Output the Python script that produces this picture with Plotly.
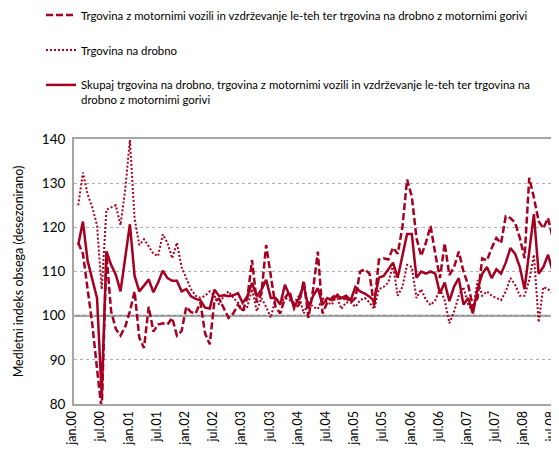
import plotly.graph_objects as go

MONTHS = ["jan", "feb", "mar", "apr", "maj", "jun", "jul", "avg", "sep", "okt", "nov", "dec"]
categories = [f"{m}.{y:02d}" for y in range(0, 9) for m in MONTHS][:104]
tick_labels = categories[::6]

# Trgovina z motornimi vozili in vzdrževanje le-teh ter trgovina na drobno z motornimi gorivi
motor_vehicles = [
    116.5, 114, 106, 98, 88, 78.5, 114, 101, 97, 95.5,
    97.5, 101, 105.5, 95, 92.7, 102, 96.4, 98, 98.3, 98,
    99.5, 95.5, 96.5, 102, 100.8, 100.5, 103, 96, 93.5, 103.5,
    103.8, 101.5, 99.5, 100.5, 102.5, 101, 104, 112.6, 103, 105,
    116, 109, 102, 100.5, 104, 105.5, 101.5, 102.5, 108, 99.5,
    106, 114.5, 100.5, 103, 104, 105, 103.5, 104, 103, 104,
    110, 110.5, 109.5, 102, 112.7, 113, 112.7, 115.4, 114, 120,
    130.8, 127, 117.6, 113.5, 116.5, 120.3, 114, 108.5, 116.4, 109.2,
    111, 114.5, 110, 107, 102, 104, 113, 112.5, 115.3, 117.6,
    116.4, 122.5, 122.1, 121, 117.6, 113, 131.2, 126.7, 121.4, 119.8,
    122.1, 117.6, 115.7, 114.9,
]

# Trgovina na drobno
retail = [
    125, 132.4, 127.5, 124.5, 120.5, 106, 124, 124.5, 125, 120.5,
    128.5, 139.8, 122, 116, 117.3, 115.7, 114, 113.5, 118.4, 116.5,
    113, 116.5, 111, 108.5, 106, 104.5, 104, 104.5, 105.5, 104.5,
    102.5, 104.5, 105.5, 104, 103, 101, 102, 106, 101, 104,
    102, 99.5, 104, 103, 104, 103.5, 103, 104.5, 100.5, 103,
    102, 101.5, 104, 103, 102.5, 104.5, 101.5, 103, 103, 102,
    103.5, 104, 103, 101.5, 106, 106.5, 107.5, 111.5, 104.5, 106.5,
    111.5, 111, 104, 106, 103.6, 102.4, 103.5, 106, 103.5, 98.3,
    100.9, 104.5, 106.5, 102.5, 101, 108, 104.5, 105.5, 104.5, 104,
    103.5, 105.5, 108.5, 107, 104.5, 104.5, 108, 113.8, 98.5, 106.5,
    106, 105, 104.5, 106.5,
]

# Skupaj
total = [
    116, 121.3, 112.4, 108.5, 104, 82, 114.6, 111.5, 109.3, 105.5,
    113, 120.7, 109, 105.5, 106.8, 108.2, 105.3, 107.5, 110.2, 108.5,
    107.9, 107.9, 105.5, 106, 104.4, 103.8, 103.5, 101.8, 101.6, 105.9,
    104.4, 104.6, 104.4, 104.6, 105.1, 102.9, 104.4, 107.4, 104.4, 105.9,
    108.1, 104, 104, 102.5, 107, 104.5, 102, 104, 107, 101.7,
    104.5, 106.2, 102.5, 104, 103.5, 104.5, 104, 104.5, 103.5, 106.5,
    105.5, 105, 104.3, 103.3, 108.6, 109, 110.5, 112, 108.6, 113.5,
    118.5, 118.5, 108.6, 110, 109.5, 110, 109.5, 105, 107.5, 103.3,
    106.6, 108.5, 102.5, 104, 100.5, 106, 109.5, 111, 108.5, 110.5,
    109.5, 112, 115.3, 114, 111, 106, 114, 123, 109.5, 111,
    113.8, 110, 110, 109.5,
]

names = [
    "Trgovina z motornimi vozili in vzdrževanje le-teh ter trgovina na drobno z motornimi gorivi",
    "Trgovina na drobno",
    "Skupaj trgovina na drobno, trgovina z motornimi vozili in vzdrževanje le-teh ter trgovina na<br>drobno z motornimi gorivi",
]
BASELINE = 100
RED = "#A50021"
FONT = "Lato"

fig = go.Figure()
fig.add_trace(go.Scatter(x=categories, y=motor_vehicles, mode="lines", name=names[0],
                         legendgroup="a",
                         line=dict(color=RED, width=2.5, dash="7px,3px")))
fig.add_trace(go.Scatter(x=categories, y=retail, mode="lines", name=names[1],
                         legendgroup="b",
                         line=dict(color=RED, width=2, dash="2px,2px")))
fig.add_trace(go.Scatter(x=categories, y=total, mode="lines", name=names[2],
                         legendgroup="c",
                         line=dict(color=RED, width=2.5)))

fig.add_shape(type="line", xref="paper", x0=0, x1=1, yref="y", y0=BASELINE, y1=BASELINE,
              line=dict(color="#868686", width=2), layer="below")

PLOT_L, PLOT_R, PLOT_T, PLOT_B = 66, 556, 131, 396
pw, ph = PLOT_R - PLOT_L, PLOT_B - PLOT_T

fig.update_layout(
    width=559, height=461,
    margin=dict(l=PLOT_L, r=559 - PLOT_R, t=PLOT_T, b=461 - PLOT_B, autoexpand=False),
    paper_bgcolor="white", plot_bgcolor="white",
    font=dict(family=FONT, color="#000000"),
    showlegend=True,
    legend=dict(
        x=(33 - PLOT_L) / pw, y=1 + (PLOT_T + 7) / ph, xanchor="left", yanchor="top",
        font=dict(family=FONT, size=11.4, color="#000000"),
        tracegroupgap=16, valign="top", bgcolor="rgba(0,0,0,0)",
    ),
    xaxis=dict(
        type="category", range=[-0.9, 103.4], automargin=False,
        tickmode="array", tickvals=tick_labels, ticktext=tick_labels, tickangle=-90,
        tickfont=dict(family=FONT, size=12.5, color="#000000"),
        ticklabeloverflow="allow", ticklabelshift=-6,
        showgrid=False, showline=True, linecolor="#a6a6a6", linewidth=2, mirror=True,
        ticks="",
    ),
    yaxis=dict(
        range=[80, 140], dtick=10, automargin=False,
        tickfont=dict(family=FONT, size=13.5, color="#000000"),
        showgrid=True, gridcolor="#b0b0b0", gridwidth=1, griddash="dot",
        showline=True, linecolor="#a6a6a6", linewidth=2, mirror=True,
        zeroline=False, ticks="", ticklabelstandoff=4,
        title=dict(text="Medletni indeks obsega (desezonirano)",
                   font=dict(family=FONT, size=12.5, color="#000000"), standoff=15),
    ),
)

fig.write_html("out.html")
